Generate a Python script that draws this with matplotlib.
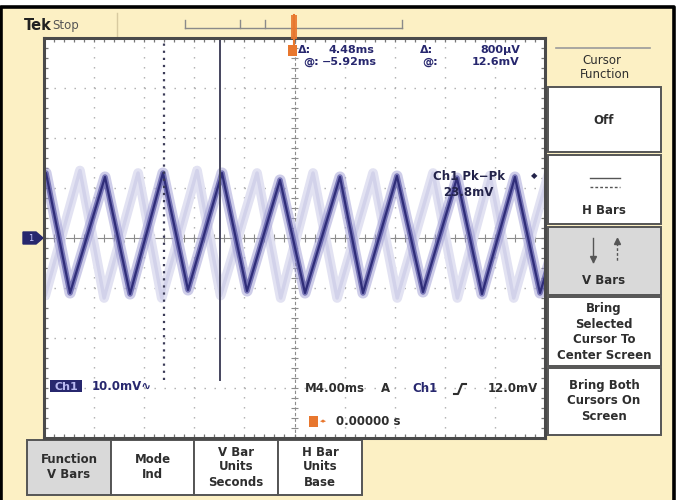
import numpy as np
import matplotlib.pyplot as plt
from matplotlib.patches import Rectangle, Polygon

W, H = 679, 500

# scope settings
time_per_div = 4.0     # ms / div
volt_per_div = 10.0    # mV / div
cursor_at = -5.92      # ms (selected cursor)
cursor_delta = 4.48    # ms

# main trace, turning points (ms, mV)
trace_t = [-22.6, -19.84, -17.92, -15.13, -13.13, -10.50, -8.50, -5.79, -3.79,
           -1.16, 0.84, 3.63, 5.47, 8.18, 10.26, 12.97, 14.97, 17.60, 19.60, 22.4]
trace_v = [-11.0, 13.0, -11.0, 12.2, -11.2, 13.0, -10.4, 13.0, -10.6,
           11.6, -11.0, 12.2, -11.0, 12.4, -10.8, 12.0, -11.2, 12.2, -11.0, 12.0]

# faint persistence trace (about half a period off)
ghost_t = [-22.0, -19.9, -17.13, -15.2, -12.49, -10.6, -7.78, -5.9, -2.99,
           -1.1, 1.48, 3.4, 6.27, 8.2, 11.06, 13.0, 15.61, 17.5, 20.3]
ghost_v = [-11.5, -11.5, 13.5, -12.0, 13.0, -12.0, 13.5, -11.5, 13.0,
           -12.0, 13.0, -12.0, 13.0, -12.0, 13.0, -12.0, 12.5, -12.0, 13.0]

side_menu = ["Off", "H Bars", "V Bars", "Bring\nSelected\nCursor To\nCenter Screen",
             "Bring Both\nCursors On\nScreen"]
bottom_menu = ["Function\nV Bars", "Mode\nInd", "V Bar\nUnits\nSeconds", "H Bar\nUnits\nBase"]

CREAM = '#fcf0c4'
NAVY = '#27276e'
TXT = '#2e2e2e'
ORANGE = '#e8772e'
FONT = 'DejaVu Sans'

fig = plt.figure(figsize=(W / 100, H / 100), dpi=100)
fig.patch.set_facecolor('white')

bg = fig.add_axes([0, 0, 1, 1])
bg.set_xlim(0, W)
bg.set_ylim(H, 0)
bg.axis('off')
bg.set_zorder(0)

# cream panel + black frame
bg.add_patch(Rectangle((1, 6.5), 673, 500, fc=CREAM, ec='none'))
bg.plot([1, 1, 674, 674], [H, 6.5, 6.5, H], color='black', lw=2.6, solid_capstyle='butt')

# top record bar
bg.plot([185, 402], [28, 28], color='#8a8a8a', lw=1)
for x in [185, 240, 265, 402]:
    bg.plot([x, x], [20, 28], color='#8a8a8a', lw=1)
bg.plot([117, 117], [13, 36], color='#d8caa0', lw=1)
bg.text(24, 26, "Tek", fontsize=10.5, fontweight='bold', color='#222222', va='center', family=FONT)
bg.text(52, 25, "Stop", fontsize=8.5, color='#555555', va='center', family=FONT)

# right side menu
bg.plot([556, 650], [48, 48], color='#9a9a9a', lw=1.2)
bg.text(602, 60, "Cursor", fontsize=8.5, color=TXT, ha='center', va='center', family=FONT)
bg.text(605, 74, "Function", fontsize=8.5, color=TXT, ha='center', va='center', family=FONT)
box_tops = [87, 155, 227, 297, 368]
box_bots = [152, 224, 295, 366, 435]
for i, lab in enumerate(side_menu):
    fc = '#d9d9d9' if lab == "V Bars" else 'white'
    bg.add_patch(Rectangle((548, box_tops[i]), 113, box_bots[i] - box_tops[i],
                           fc=fc, ec='#555555', lw=1.4))
label_y = [120, 211, 280, 332, 401]
for i, lab in enumerate(side_menu):
    bg.text(604, label_y[i], lab, fontsize=8.5, fontweight='bold', color=TXT,
            ha='center', va='center', linespacing=1.25, family=FONT)
# H bars icon
bg.plot([590, 620], [178, 178], color='#555555', lw=1)
bg.plot([590, 620], [187, 187], color='#555555', lw=1, dashes=(2, 1.5))
# V bars icon
bg.plot([593, 593], [238, 262], color='#555555', lw=1)
bg.plot([617, 617], [238, 262], color='#555555', lw=1, dashes=(2, 1.5))
bg.plot([593], [259], marker='v', ms=4, color='#555555')
bg.plot([617], [241], marker='^', ms=4, color='#555555')

# bottom menu
edges = [27, 111, 194, 278, 362]
for i, lab in enumerate(bottom_menu):
    fc = '#d9d9d9' if i == 0 else 'white'
    bg.add_patch(Rectangle((edges[i], 440), edges[i + 1] - edges[i], 55,
                           fc=fc, ec='#555555', lw=1.4))
    bg.text((edges[i] + edges[i + 1]) / 2, 467, lab, fontsize=8.5, fontweight='bold',
            color=TXT, ha='center', va='center', linespacing=1.2, family=FONT)

# ground marker
bg.add_patch(Polygon([[23, 232], [36, 232], [43, 238], [36, 244], [23, 244]],
                     closed=True, fc=NAVY, ec=NAVY))
bg.text(31, 238.5, "1", fontsize=6, color='#c8c8ff', ha='center', va='center', family=FONT)

# ---- scope screen ----
scr = fig.add_axes([44 / W, 1 - 438 / H, 501 / W, 400 / H])
scr.set_zorder(1)
xmax = 5 * time_per_div
ymax = 4 * volt_per_div
scr.set_xlim(-xmax, xmax)
scr.set_ylim(-ymax, ymax)
scr.set_facecolor('white')
scr.set_xticks([])
scr.set_yticks([])
for s in scr.spines.values():
    s.set_color('#4a4a4a')
    s.set_linewidth(2.2)

GRID = '#ababab'
for x in np.arange(-xmax + time_per_div, xmax, time_per_div):
    if abs(x) > 1e-9:
        scr.axvline(x, color=GRID, lw=1, dashes=(1, 6.2))
for y in np.arange(-ymax + volt_per_div, ymax, volt_per_div):
    if abs(y) > 1e-9:
        scr.axhline(y, color=GRID, lw=1, dashes=(1, 6.2))
scr.axhline(0, color='#8c8c8c', lw=0.8)
scr.axvline(0, color='#8c8c8c', lw=0.8, dashes=(3, 2))

minor_t = np.arange(-xmax, xmax + 1e-9, time_per_div / 5)
minor_v = np.arange(-ymax, ymax + 1e-9, volt_per_div / 5)
tv = 0.8    # tick half length in mV
tt = 0.3    # tick half length in ms
scr.vlines(minor_t, -tv, tv, color='#8c8c8c', lw=0.8)
scr.hlines(minor_v, -tt, tt, color='#8c8c8c', lw=0.8)
scr.vlines(minor_t, ymax - tv, ymax, color='#777777', lw=0.9)
scr.vlines(minor_t, -ymax, -ymax + tv, color='#777777', lw=0.9)
scr.hlines(minor_v, -xmax, -xmax + tt, color='#777777', lw=0.9)
scr.hlines(minor_v, xmax - tt, xmax, color='#777777', lw=0.9)

# persistence trace
scr.plot(ghost_t, ghost_v, color='#e2e2f2', lw=7, solid_joinstyle='round')
scr.plot(ghost_t, ghost_v, color='#d2d2ea', lw=2.5, solid_joinstyle='round')
# live trace
scr.plot(trace_t, trace_v, color='#9e9cd4', lw=8, alpha=0.5, solid_joinstyle='round')
scr.plot(trace_t, trace_v, color='#5b59a6', lw=4, alpha=0.75, solid_joinstyle='round')
scr.plot(trace_t, trace_v, color='#2f2d79', lw=1.6, solid_joinstyle='round')

# cursors
other_cursor = cursor_at - cursor_delta
cur_bottom = -28.4
scr.plot([cursor_at, cursor_at], [cur_bottom, ymax], color='#45455e', lw=1.4)
scr.plot([other_cursor, other_cursor], [cur_bottom, ymax], color='#3c3c58', lw=1.6,
         dashes=(1, 2.2))

# ---- overlay text ----
ov = fig.add_axes([0, 0, 1, 1])
ov.set_xlim(0, W)
ov.set_ylim(H, 0)
ov.axis('off')
ov.set_zorder(2)

# trigger position marker
ov.add_patch(Rectangle((291, 15), 6, 24, fc=ORANGE, ec='none', alpha=0.9))
ov.plot([294, 294], [15, 50], color=ORANGE, lw=1.5)
ov.add_patch(Rectangle((288, 45), 9, 11, fc=ORANGE, ec='none'))

RB = dict(fontsize=8, color=NAVY, va='center', family=FONT, fontweight='bold')
ov.text(298, 50, "Δ:", **RB)
ov.text(374, 50, "4.48ms", ha='right', **RB)
ov.text(303, 62, "@:", **RB)
ov.text(377, 62, "\u22125.92ms", ha='right', **RB)
ov.text(420, 50, "Δ:", **RB)
ov.text(520, 50, "800μV", ha='right', **RB)
ov.text(422, 62, "@:", **RB)
ov.text(519, 62, "12.6mV", ha='right', **RB)

ov.text(433, 177, "Ch1 Pk\u2212Pk", fontsize=8.5, color='#23234a', va='center',
        family=FONT, fontweight='bold')
ov.text(531, 176, "◆", fontsize=6, color='#23234a', va='center', family=FONT)
ov.text(443, 192, "23.8mV", fontsize=8.5, color='#23234a', va='center',
        family=FONT, fontweight='bold')

ov.add_patch(Rectangle((50, 380), 32, 12, fc=NAVY, ec='none'))
ov.text(66, 386.5, "Ch1", fontsize=8, color='#b8b8f0', ha='center', va='center',
        fontweight='bold', family=FONT)
ov.text(92, 386, "10.0mV\u223f", fontsize=8.5, color=NAVY, va='center', family=FONT,
        fontweight='bold')

BB = dict(fontsize=8.5, va='center', family=FONT, fontweight='bold')
ov.text(305, 389, "M4.00ms", color=TXT, **BB)
ov.text(381, 389, "A", color=TXT, **BB)
ov.text(412, 389, "Ch1", color=NAVY, **BB)
ov.plot([454, 458, 462, 466], [394, 394, 384, 384], color=TXT, lw=1.5)
ov.text(538, 389, "12.0mV", color=TXT, ha='right', **BB)

ov.add_patch(Rectangle((309, 416), 9, 11, fc=ORANGE, ec='none'))
ov.text(320, 421.5, "◂▸", fontsize=5, color=ORANGE, va='center', family=FONT)
ov.text(336, 421.5, "0.00000 s", color=TXT, **BB)

fig.savefig('out.png', dpi=100, facecolor=fig.get_facecolor())
